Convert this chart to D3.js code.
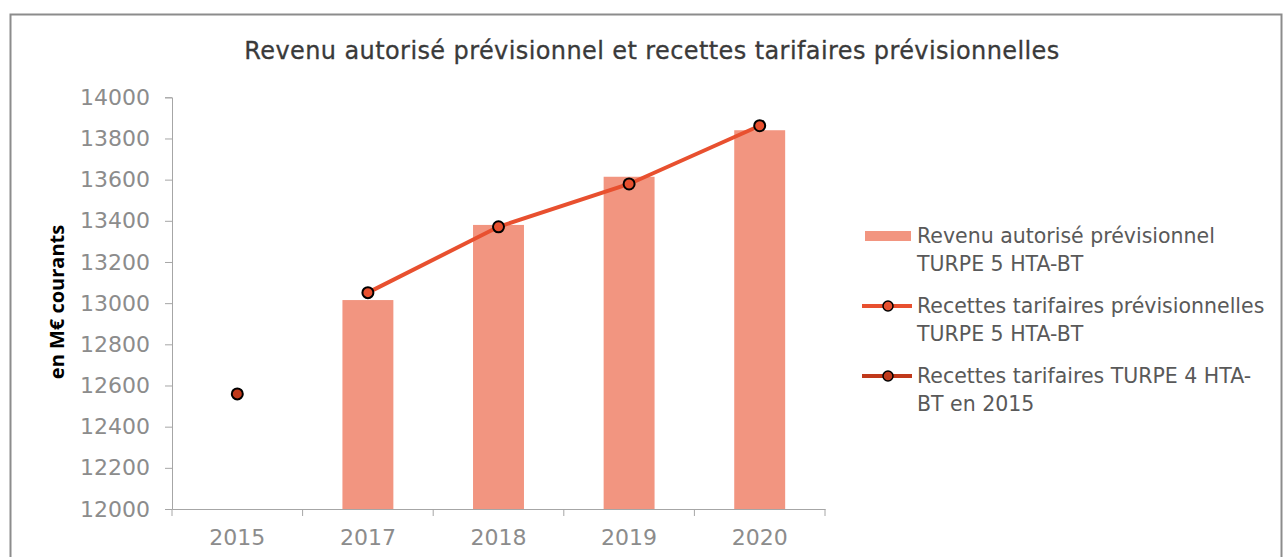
<!DOCTYPE html>
<html>
<head>
<meta charset="utf-8">
<script src="https://cdn.jsdelivr.net/npm/d3@7"></script>
<style>
  body { margin: 0; background: #fff; }
  svg { display: block; }
</style>
</head>
<body>
<script>
// categories and series
const years = ["2015", "2017", "2018", "2019", "2020"]
const revenuAutorise = [null, 13015, 13380, 13614, 13840]
const recettesTurpe5 = [null, 13051, 13371, 13579, 13862]
const recettesTurpe4 = [12559, null, null, null, null]
const yTicks = [12000, 12200, 12400, 12600, 12800, 13000, 13200, 13400, 13600, 13800, 14000]

const titleText = "Revenu autorisé prévisionnel et recettes tarifaires prévisionnelles"
const yTitle = "en M€ courants"
const legendLabels = [
  ["Revenu autorisé prévisionnel", "TURPE 5 HTA-BT"],
  ["Recettes tarifaires prévisionnelles", "TURPE 5 HTA-BT"],
  ["Recettes tarifaires TURPE 4 HTA-", "BT en 2015"]
]

const W = 1284
const H = 557
const barColor = "#f29580"
const lineColor = "#e8502f"
const t4Color = "#c0391b"
const axisColor = "#a6a6a6"
const font = "DejaVu Sans, sans-serif"

const svg = d3.select("body").append("svg")
  .attr("width", W)
  .attr("height", H)

// chart frame
svg.append("rect")
  .attr("x", 10.5)
  .attr("y", 14.5)
  .attr("width", 1271)
  .attr("height", 600)
  .attr("fill", "none")
  .attr("stroke", "#8c8c8c")
  .attr("stroke-width", 2)

svg.append("text")
  .attr("x", 652)
  .attr("y", 59)
  .attr("text-anchor", "middle")
  .attr("font-family", font)
  .attr("font-size", 24)
  .attr("letter-spacing", 0.4)
  .attr("fill", "#3a3a3a")
  .attr("stroke", "#3a3a3a")
  .attr("stroke-width", 0.3)
  .text(titleText)

const x = d3.scaleBand()
  .domain(years)
  .range([172, 825])
  .paddingInner(0.61)
  .paddingOuter(0.305)

const y = d3.scaleLinear()
  .domain([12000, 14000])
  .range([509, 97.3])

// y axis
const yAxis = svg.append("g")
  .attr("transform", "translate(172,0)")
  .call(d3.axisLeft(y).tickValues(yTicks).tickSize(7).tickPadding(15).tickFormat(d3.format("d")))
yAxis.select(".domain").attr("stroke", axisColor)
yAxis.selectAll(".tick line").attr("stroke", axisColor)
yAxis.selectAll(".tick text")
  .attr("font-family", font)
  .attr("font-size", 22)
  .attr("fill", "#8c8c8c")

// x axis, ticks between categories
const xAxis = svg.append("g")
  .attr("transform", "translate(0,509)")
  .call(d3.axisBottom(x).tickSize(0).tickPadding(20))
xAxis.select(".domain").attr("stroke", axisColor)
xAxis.selectAll(".tick text")
  .attr("font-family", font)
  .attr("font-size", 22)
  .attr("fill", "#8c8c8c")
xAxis.selectAll(".sep")
  .data(d3.range(years.length + 1))
  .enter()
  .append("line")
  .attr("class", "sep")
  .attr("x1", (i) => x.range()[0] + i * x.step())
  .attr("x2", (i) => x.range()[0] + i * x.step())
  .attr("y1", 0)
  .attr("y2", 7)
  .attr("stroke", axisColor)

svg.append("text")
  .attr("transform", "translate(64,302) rotate(-90)")
  .attr("text-anchor", "middle")
  .attr("font-family", "Open Sans, sans-serif")
  .attr("font-weight", "bold")
  .attr("font-size", 20)
  .attr("fill", "#000")
  .text(yTitle)

// bars
svg.selectAll(".bar")
  .data(years.map((d, i) => ({ year: d, v: revenuAutorise[i] })).filter((d) => d.v != null))
  .enter()
  .append("rect")
  .attr("class", "bar")
  .attr("x", (d) => x(d.year))
  .attr("width", x.bandwidth())
  .attr("y", (d) => y(d.v))
  .attr("height", (d) => y(12000) - y(d.v))
  .attr("fill", barColor)

const cx = (d) => x(d.year) + x.bandwidth() / 2

// TURPE 5 line
const t5 = years.map((d, i) => ({ year: d, v: recettesTurpe5[i] })).filter((d) => d.v != null)
svg.append("path")
  .datum(t5)
  .attr("d", d3.line().x(cx).y((d) => y(d.v)))
  .attr("fill", "none")
  .attr("stroke", lineColor)
  .attr("stroke-width", 4)
svg.selectAll(".pt5")
  .data(t5)
  .enter()
  .append("circle")
  .attr("class", "pt5")
  .attr("cx", cx)
  .attr("cy", (d) => y(d.v))
  .attr("r", 5.5)
  .attr("fill", lineColor)
  .attr("stroke", "#000")
  .attr("stroke-width", 2)

// TURPE 4 point
const t4 = years.map((d, i) => ({ year: d, v: recettesTurpe4[i] })).filter((d) => d.v != null)
svg.selectAll(".pt4")
  .data(t4)
  .enter()
  .append("circle")
  .attr("class", "pt4")
  .attr("cx", cx)
  .attr("cy", (d) => y(d.v))
  .attr("r", 5.5)
  .attr("fill", t4Color)
  .attr("stroke", "#000")
  .attr("stroke-width", 2)

// legend
const legend = svg.append("g")
const entryY = [236, 306, 376]
legendLabels.forEach((lines, i) => {
  const g = legend.append("g").attr("transform", "translate(0," + entryY[i] + ")")
  if (i == 0) {
    g.append("rect")
      .attr("x", 865).attr("y", -5).attr("width", 46).attr("height", 10)
      .attr("fill", barColor)
  } else {
    const c = i == 1 ? lineColor : t4Color
    g.append("line")
      .attr("x1", 862).attr("x2", 912).attr("y1", 0).attr("y2", 0)
      .attr("stroke", c).attr("stroke-width", 4)
    g.append("circle")
      .attr("cx", 888).attr("cy", 0).attr("r", 5)
      .attr("fill", c).attr("stroke", "#000").attr("stroke-width", 1.5)
  }
  lines.forEach((t, j) => {
    g.append("text")
      .attr("x", 917)
      .attr("y", j * 28 + 7)
      .attr("font-family", font)
      .attr("font-size", 20.5)
      .attr("fill", "#595959")
      .text(t)
  })
})
</script>
</body>
</html>
